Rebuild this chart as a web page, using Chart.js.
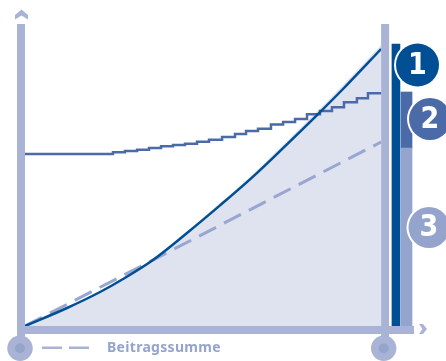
<!DOCTYPE html>
<html>
<head>
<meta charset="utf-8">
<title>Beitragssumme</title>
<style>
  html, body { margin: 0; padding: 0; background: #fff; }
  canvas { display: block; }
</style>
<script src="https://cdn.jsdelivr.net/npm/chart.js@4/dist/chart.umd.min.js"></script>
</head>
<body>
<canvas id="myChart" width="446" height="361"></canvas>
<script>
'use strict';

// years and values of the guarantee curve
const curveYears = [0, 3.54, 6.32, 8.26, 10.78, 13.65, 16.43, 19.21, 21.74, 24.6, 26.79, 30];
const curveValues = [0, 6, 11.33, 15.67, 22, 31, 40.2, 49.8, 59.3, 70.3, 79, 92.33];
const areaValues = [0, 6.05, 11.45, 15.9, 22.4, 31.6, 41, 50.7, 60.4, 71.5, 80.3, 93.7];

// stepped series
const stepYears = [0, 7.41, 8.42, 9.44, 10.45, 11.46, 12.47, 13.48, 14.49, 15.5, 16.6, 17.69,
  18.62, 19.63, 20.72, 21.74, 22.75, 23.76, 24.85, 25.86, 26.87, 27.96, 28.89, 30];
const stepValues = [57.33, 57.9, 58.33, 58.77, 59.33, 59.9, 60.33, 60.77, 61.43, 62.1, 63, 64,
  65, 65.77, 67.17, 68, 69, 70.57, 71.67, 72.9, 74.57, 75.9, 77.57, 77.57];

// paid-in contributions
const sumYears = [0, 10, 20, 30];
const sumValues = [0, 20.4, 40.9, 61.33];

// columns right of the end axis
const barOneX = 31.25;
const barTwoX = 32.14;
const barOne = [0, 94];
const barTwoLower = [0, 59.33];
const barTwoUpper = [59.33, 78];

const legendLabel = 'Beitragssumme';
const badgeLabels = ['1', '2', '3'];

const axisColor = '#a9b3d6';
const darkBlue = '#004f95';
const midBlue = '#4a6aa8';
const lightBlue = '#95a4cd';

const toPoints = (xs, ys) => xs.map((x, i) => ({ x: x, y: ys[i] }));

function chevron(ctx, pts) {
  ctx.beginPath();
  pts.forEach((p, i) => (i ? ctx.lineTo(p[0], p[1]) : ctx.moveTo(p[0], p[1])));
  ctx.closePath();
  ctx.fill();
}

function badge(ctx, x, y, r, color, label) {
  ctx.fillStyle = '#fff';
  ctx.beginPath();
  ctx.arc(x, y, r + 2, 0, Math.PI * 2);
  ctx.fill();
  ctx.fillStyle = color;
  ctx.beginPath();
  ctx.arc(x, y, r, 0, Math.PI * 2);
  ctx.fill();
  ctx.fillStyle = '#fff';
  ctx.font = 'bold 30px "DejaVu Sans Condensed", "DejaVu Sans"';
  ctx.textAlign = 'center';
  ctx.textBaseline = 'middle';
  ctx.fillText(label, x, y + 1);
}

// axes, end markers, legend and numbered badges
const framePlugin = {
  id: 'frame',
  afterDraw(chart) {
    const ctx = chart.ctx;
    const xs = chart.scales.x;
    const base = chart.scales.y.getPixelForValue(0);
    const left = xs.getPixelForValue(0);
    const right = xs.getPixelForValue(30);
    ctx.save();

    ctx.fillStyle = axisColor;
    ctx.fillRect(left - 8, 24, 8, 326);
    ctx.fillRect(right, 24, 8, 326);
    ctx.fillRect(left - 8, base, xs.right - left + 8, 8);
    [[20, 348.3], [383.7, 348.3]].forEach(c => {
      ctx.fillStyle = axisColor;
      ctx.beginPath();
      ctx.arc(c[0], c[1], 12.7, 0, Math.PI * 2);
      ctx.fill();
      ctx.fillStyle = lightBlue;
      ctx.beginPath();
      ctx.arc(c[0], c[1], 5, 0, Math.PI * 2);
      ctx.fill();
    });

    ctx.fillStyle = axisColor;
    chevron(ctx, [[15, 15], [21.5, 9.5], [28, 15], [28, 19.5], [21.5, 15.5], [15, 19.5]]);
    chevron(ctx, [[419, 324], [423, 324], [427, 329], [423, 334], [419, 334], [422.5, 329]]);

    ctx.strokeStyle = axisColor;
    ctx.lineWidth = 2.5;
    ctx.beginPath();
    ctx.moveTo(42, 347.7);
    ctx.lineTo(62, 347.7);
    ctx.moveTo(69, 347.7);
    ctx.lineTo(89, 347.7);
    ctx.stroke();

    ctx.fillStyle = lightBlue;
    ctx.font = 'bold 14px "Noto Sans"';
    ctx.letterSpacing = '0.3px';
    ctx.textAlign = 'left';
    ctx.textBaseline = 'middle';
    ctx.fillText(legendLabel, 107, 348);
    ctx.letterSpacing = '0px';

    badge(ctx, 417.5, 65, 21.5, darkBlue, badgeLabels[0]);
    badge(ctx, 430, 119, 21, midBlue, badgeLabels[1]);
    badge(ctx, 429, 227.5, 20.5, lightBlue, badgeLabels[2]);
    ctx.restore();
  }
};

const myChart = new Chart(document.getElementById('myChart'), {
  data: {
    datasets: [
      {
        type: 'line',
        label: 'Fläche',
        data: toPoints(curveYears, areaValues),
        borderWidth: 0,
        backgroundColor: '#dfe3f0',
        fill: 'origin',
        cubicInterpolationMode: 'monotone',
        pointRadius: 0,
        order: 5
      },
      {
        type: 'line',
        label: legendLabel,
        data: toPoints(sumYears, sumValues),
        borderColor: '#98a6d0',
        borderWidth: 3,
        borderDash: [19, 9],
        pointRadius: 0,
        order: 4
      },
      {
        type: 'line',
        label: 'Stufen',
        data: toPoints(stepYears, stepValues),
        borderColor: midBlue,
        borderWidth: 2.5,
        stepped: true,
        pointRadius: 0,
        order: 3
      },
      {
        type: 'line',
        label: 'Kurve',
        data: toPoints(curveYears, curveValues),
        borderColor: darkBlue,
        borderWidth: 2.5,
        cubicInterpolationMode: 'monotone',
        pointRadius: 0,
        order: 2
      },
      {
        type: 'bar',
        label: 'Säule 1',
        data: [{ x: barOneX, y: barOne }],
        backgroundColor: darkBlue,
        barThickness: 8,
        grouped: false,
        order: 1
      },
      {
        type: 'bar',
        label: 'Säule 2 unten',
        data: [{ x: barTwoX, y: barTwoLower }],
        backgroundColor: lightBlue,
        barThickness: 11,
        grouped: false,
        order: 1
      },
      {
        type: 'bar',
        label: 'Säule 2 oben',
        data: [{ x: barTwoX, y: barTwoUpper }],
        backgroundColor: midBlue,
        barThickness: 11,
        grouped: false,
        order: 1
      }
    ]
  },
  options: {
    responsive: false,
    animation: false,
    layout: { padding: { left: 25, right: 32, top: 26, bottom: 35 } },
    plugins: { legend: { display: false }, tooltip: { enabled: false } },
    scales: {
      x: { type: 'linear', display: false, offset: false, min: 0, max: 32.77 },
      y: { type: 'linear', display: false, min: 0, max: 100 }
    }
  },
  plugins: [framePlugin]
});
</script>
</body>
</html>
